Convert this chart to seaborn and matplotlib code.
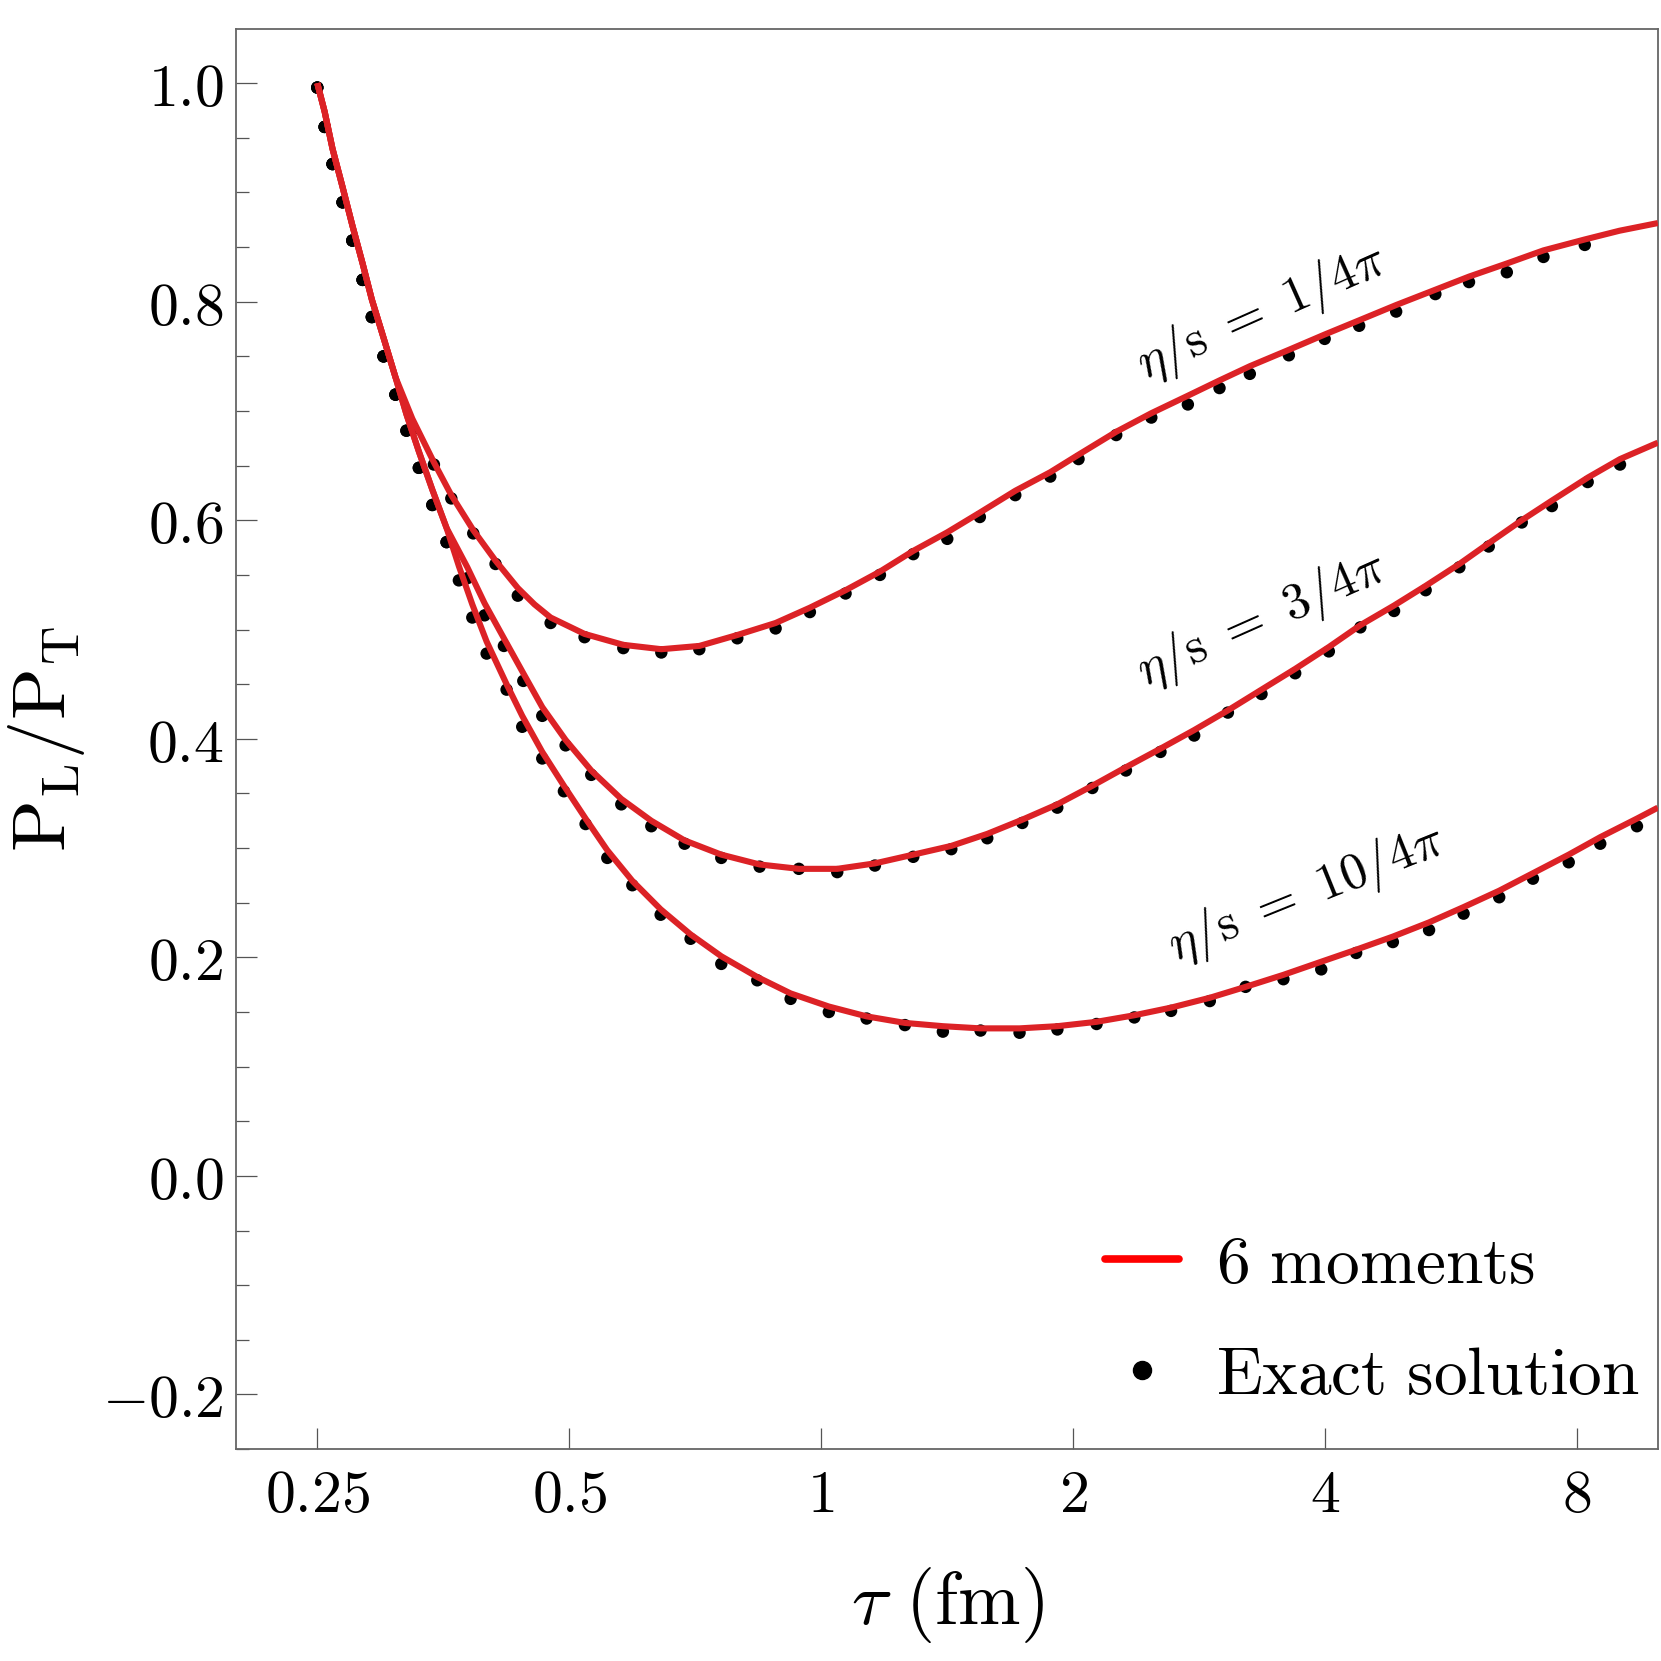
import matplotlib
matplotlib.use("Agg")
import matplotlib.pyplot as plt
import numpy as np
import pandas as pd
import seaborn as sns
from matplotlib.lines import Line2D
from matplotlib.ticker import FixedLocator, FixedFormatter, NullLocator

# ---------------- data ----------------
# shared early part (all three curves coincide)
tau_early = [0.250, 0.2551, 0.2607, 0.2680, 0.2753, 0.2832, 0.2905, 0.3000, 0.3100]
dots_early = [0.996, 0.960, 0.926, 0.891, 0.856, 0.820, 0.786, 0.750, 0.715]
line_early = [1.000, 0.974, 0.940, 0.905, 0.870, 0.835, 0.802, 0.767, 0.731]

# lower two curves coincide a little longer
tau_mid = [0.3195, 0.3306, 0.3431, 0.3568]
dots_mid = [0.682, 0.648, 0.614, 0.580]
line_mid = [0.697, 0.663, 0.628, 0.593]

# eta/s = 1/4pi
tau_1 = [0.3247, 0.3446, 0.3615, 0.3840, 0.4083, 0.4341, 0.4751, 0.5216, 0.5803, 0.6443,
         0.7153, 0.7941, 0.8824, 0.9697, 1.0697, 1.1758, 1.2888, 1.4152, 1.5479, 1.7064,
         1.8789, 2.0308, 2.2528, 2.4812, 2.7437, 2.9934, 3.2537, 3.6228, 3.9978, 4.3958,
         4.8670, 5.4215, 5.9473, 6.5995, 7.2998, 8.1788]
dots_1 = [0.683, 0.651, 0.620, 0.588, 0.560, 0.531, 0.506, 0.493, 0.483, 0.479,
          0.482, 0.492, 0.501, 0.516, 0.533, 0.550, 0.569, 0.583, 0.603, 0.623,
          0.640, 0.656, 0.678, 0.694, 0.706, 0.721, 0.734, 0.751, 0.766, 0.778,
          0.791, 0.807, 0.818, 0.827, 0.841, 0.852]
line_tau_1 = [0.3247, 0.3446, 0.3615, 0.3840, 0.4083, 0.4341, 0.4545, 0.4751, 0.5216, 0.5803,
              0.6443, 0.7153, 0.7941, 0.8824, 0.9697, 1.0697, 1.1758, 1.2888, 1.4152, 1.5479,
              1.7064, 1.8789, 2.0308, 2.2528, 2.4812, 2.7437, 2.9934, 3.2537, 3.6228, 3.9978,
              4.3958, 4.8670, 5.4215, 5.9473, 6.5995, 7.2998, 8.1788, 9.0, 10.0]
line_1 = [0.693, 0.653, 0.623, 0.591, 0.563, 0.538, 0.523, 0.511, 0.496, 0.486,
          0.482, 0.485, 0.495, 0.506, 0.520, 0.536, 0.553, 0.572, 0.589, 0.607,
          0.627, 0.644, 0.660, 0.681, 0.698, 0.714, 0.728, 0.741, 0.756, 0.770,
          0.783, 0.797, 0.811, 0.823, 0.835, 0.847, 0.857, 0.865, 0.872]

# eta/s = 3/4pi
tau_3 = [0.3778, 0.3962, 0.4178, 0.4407, 0.4643, 0.4951, 0.5313, 0.5771, 0.6268, 0.6869,
         0.7599, 0.8444, 0.9407, 1.0455, 1.1597, 1.2888, 1.4310, 1.5798, 1.7397, 1.9155,
         2.1095, 2.3139, 2.5446, 2.7918, 3.0632, 3.3601, 3.6864, 4.0440, 4.4105, 4.8390,
         5.2785, 5.7920, 6.2795, 6.8762, 7.4707, 8.2442, 9.0110]
dots_3 = [0.547, 0.513, 0.485, 0.453, 0.421, 0.394, 0.367, 0.340, 0.320, 0.304,
          0.291, 0.283, 0.281, 0.278, 0.284, 0.292, 0.299, 0.309, 0.323, 0.337,
          0.355, 0.371, 0.388, 0.403, 0.424, 0.441, 0.460, 0.480, 0.502, 0.517,
          0.536, 0.557, 0.576, 0.598, 0.613, 0.635, 0.651]
line_tau_3 = tau_3 + [10.0]
line_3 = [0.557, 0.524, 0.492, 0.460, 0.429, 0.399, 0.371, 0.345, 0.325, 0.307,
          0.294, 0.285, 0.281, 0.281, 0.286, 0.294, 0.302, 0.313, 0.326, 0.340,
          0.357, 0.374, 0.391, 0.408, 0.426, 0.445, 0.464, 0.484, 0.504, 0.522,
          0.540, 0.560, 0.579, 0.600, 0.618, 0.639, 0.656, 0.671]

# eta/s = 10/4pi
tau_10 = [0.3691, 0.3830, 0.3984, 0.4209, 0.4394, 0.4643, 0.4928, 0.5231, 0.5553, 0.5949,
          0.6431, 0.6983, 0.7599, 0.8390, 0.9196, 1.0216, 1.1334, 1.2595, 1.3982, 1.5510,
          1.7266, 1.9161, 2.1342, 2.3679, 2.6198, 2.9145, 3.2160, 3.5690, 3.9605, 4.3598,
          4.8232, 5.3283, 5.8593, 6.4630, 7.0915, 7.8253, 8.5343, 9.4415]
dots_10 = [0.545, 0.511, 0.478, 0.445, 0.411, 0.382, 0.352, 0.322, 0.291, 0.266,
           0.239, 0.217, 0.194, 0.179, 0.162, 0.150, 0.144, 0.138, 0.132, 0.133,
           0.131, 0.134, 0.139, 0.145, 0.151, 0.160, 0.173, 0.180, 0.189, 0.204,
           0.214, 0.225, 0.240, 0.255, 0.272, 0.287, 0.304, 0.320]
line_tau_10 = tau_10 + [10.0]
line_10 = [0.558, 0.523, 0.489, 0.450, 0.421, 0.388, 0.357, 0.327, 0.298, 0.270,
           0.244, 0.221, 0.201, 0.182, 0.167, 0.155, 0.146, 0.140, 0.137, 0.135,
           0.135, 0.137, 0.141, 0.147, 0.154, 0.163, 0.173, 0.184, 0.196, 0.207,
           0.219, 0.232, 0.246, 0.261, 0.277, 0.294, 0.310, 0.327, 0.337]

curve_labels = [r"$\eta/\mathrm{s}\ =\ 1/4\pi$", r"$\eta/\mathrm{s}\ =\ 3/4\pi$",
                r"$\eta/\mathrm{s}\ =\ 10/4\pi$"]
label_pos = [(3.36, 0.790), (3.36, 0.509), (3.80, 0.258)]
label_rot = [24, 24, 22]

x_ticks = [0.25, 0.5, 1, 2, 4, 8]
x_ticklabels = ["0.25", "0.5", "1", "2", "4", "8"]
y_ticks = [-0.2, 0.0, 0.2, 0.4, 0.6, 0.8, 1.0]
y_ticklabels = ["-0.2", "0.0", "0.2", "0.4", "0.6", "0.8", "1.0"]
y_minor = [-0.25, -0.15, -0.1, -0.05, 0.05, 0.1, 0.15, 0.25, 0.3, 0.35, 0.45, 0.5,
           0.55, 0.65, 0.7, 0.75, 0.85, 0.9, 0.95]

legend_labels = [r"$\mathrm{6\ moments}$", r"$\mathrm{Exact\ solution}$"]

# ---------------- build tables ----------------
def frame(name, taus, vals):
    return pd.DataFrame({"tau": taus, "pl": vals, "curve": name})

lines_df = pd.concat([
    frame("1/4pi", tau_early + line_tau_1, line_early + line_1),
    frame("3/4pi", tau_early + tau_mid + line_tau_3, line_early + line_mid + line_3),
    frame("10/4pi", tau_early + tau_mid + line_tau_10, line_early + line_mid + line_10),
], ignore_index=True)

dots_df = pd.concat([
    frame("1/4pi", tau_early + tau_1, dots_early + dots_1),
    frame("3/4pi", tau_early + tau_mid + tau_3, dots_early + dots_mid + dots_3),
    frame("10/4pi", tau_early + tau_mid + tau_10, dots_early + dots_mid + dots_10),
], ignore_index=True)

# ---------------- style ----------------
sns.set_theme(style="white")
plt.rcParams["mathtext.fontset"] = "cm"
plt.rcParams["font.family"] = ["DejaVu Serif"]
plt.rcParams["axes.unicode_minus"] = True
for key in ["text.color", "axes.labelcolor", "xtick.labelcolor", "ytick.labelcolor"]:
    plt.rcParams[key] = "black"

RED = "#dc2226"
fig = plt.figure(figsize=(16.61, 16.61), dpi=100)
ax = fig.add_axes([0.1422, 0.1276, 0.8559, 0.8552])

sns.scatterplot(data=dots_df, x="tau", y="pl", hue="curve", palette=["black"] * 3,
                s=80, linewidth=0, legend=False, ax=ax, zorder=2)
sns.lineplot(data=lines_df, x="tau", y="pl", hue="curve", palette=[RED] * 3,
             estimator=None, sort=False, linewidth=4.4, legend=False, ax=ax, zorder=3)
for ln in ax.get_lines():
    ln.set_solid_joinstyle("round")
    ln.set_solid_capstyle("butt")

ax.set_xscale("log", base=2)
ax.set_xlim(0.2, 10.0)
ax.set_ylim(-0.25, 1.05)

ax.xaxis.set_major_locator(FixedLocator(x_ticks))
ax.xaxis.set_major_formatter(FixedFormatter([r"$\mathrm{%s}$" % t for t in x_ticklabels]))
ax.xaxis.set_minor_locator(NullLocator())
ax.yaxis.set_major_locator(FixedLocator(y_ticks))
ax.yaxis.set_major_formatter(FixedFormatter([r"$\mathrm{%s}$" % t for t in y_ticklabels]))
ax.yaxis.set_minor_locator(FixedLocator(y_minor))

ax.tick_params(axis="both", which="major", direction="in", length=15, width=0.9,
               color="#555555", labelcolor="black", labelsize=43,
               bottom=True, left=True, top=False, right=False)
ax.tick_params(axis="both", which="minor", direction="in", length=9, width=0.9,
               color="#555555", bottom=True, left=True, top=False, right=False)
ax.tick_params(axis="x", which="major", pad=12)
ax.tick_params(axis="y", which="major", pad=9)

for sp in ax.spines.values():
    sp.set_color("#666666")
    sp.set_linewidth(1.3)

ax.set_xlabel(r"$\tau\ \mathrm{(fm)}$", fontsize=54, labelpad=30, color="black")
ax.set_ylabel(r"$\mathrm{P_L/P_T}$", fontsize=55, labelpad=11, color="black")

for lab, (tx, ty), rot in zip(curve_labels, label_pos, label_rot):
    ax.text(tx, ty, lab, fontsize=37, rotation=rot, rotation_mode="anchor",
            ha="center", va="center", color="black", zorder=5)

handles = [Line2D([], [], color="red", lw=5.5),
           Line2D([], [], marker="o", ls="", color="black", markersize=13)]
leg = ax.legend(handles, legend_labels,
                loc="lower left", bbox_to_anchor=(0.611, 0.029), borderaxespad=0,
                borderpad=0, frameon=False, fontsize=48.5, handlelength=1.1,
                handletextpad=0.55, labelspacing=0.68)
for t in leg.get_texts():
    t.set_color("black")

fig.savefig("out.png", dpi=100)
